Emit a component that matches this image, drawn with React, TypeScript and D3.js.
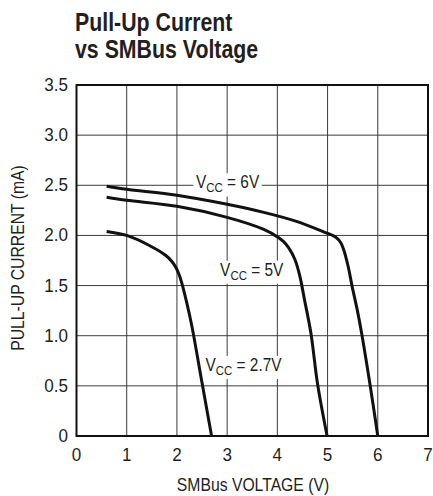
import React, { useEffect, useRef } from "react";
import * as d3 from "d3";

// Pull-up current (mA) vs SMBus voltage (V)
const vcc6V = [
  [0.6, 2.49], [1.0, 2.46], [2.0, 2.4], [3.0, 2.31], [3.73, 2.23], [4.38, 2.14],
  [5.0, 2.02], [5.1, 2.0], [5.19, 1.97], [5.26, 1.93], [5.32, 1.86], [5.41, 1.69],
  [5.49, 1.49], [5.59, 1.26], [5.68, 1.02], [5.84, 0.53], [6.0, 0],
];
const vcc5V = [
  [0.6, 2.38], [1.0, 2.35], [2.0, 2.29], [3.0, 2.18], [3.73, 2.06], [4.02, 1.98],
  [4.12, 1.94], [4.22, 1.88], [4.35, 1.76], [4.45, 1.59], [4.54, 1.36], [4.67, 1.02],
  [4.8, 0.52], [4.99, 0],
];
const vcc27V = [
  [0.6, 2.04], [1.0, 2.0], [1.45, 1.9], [1.78, 1.8], [1.9, 1.74], [1.98, 1.68],
  [2.05, 1.6], [2.1, 1.52], [2.2, 1.32], [2.3, 1.09], [2.5, 0.53], [2.69, 0],
];

const curves = [vcc6V, vcc5V, vcc27V];
const curveLabels = [
  { sub: "CC", rest: " = 6V", x: 2.38, y: 2.47 },
  { sub: "CC", rest: " = 5V", x: 2.86, y: 1.6 },
  { sub: "CC", rest: " = 2.7V", x: 2.57, y: 0.65 },
];

const xTicks = [0, 1, 2, 3, 4, 5, 6, 7];
const yTicks = [0, 0.5, 1.0, 1.5, 2.0, 2.5, 3.0, 3.5];

const FONT = "'Liberation Sans', Arial, sans-serif";
const INK = "#231f20";

// narrow text: the original uses a condensed face, squeeze it horizontally
const narrowText = (parent, x, y, size, squeeze, anchor = "start") =>
  parent
    .append("g")
    .attr("transform", `translate(${x},${y}) scale(${squeeze},1)`)
    .append("text")
    .attr("text-anchor", anchor)
    .attr("font-family", FONT)
    .attr("font-size", size)
    .attr("fill", INK);

const App = () => {
  const svgRef = useRef(null);

  useEffect(() => {
    const svg = d3.select(svgRef.current);
    svg.selectAll("*").remove();

    const left = 76.5;
    const right = 428;
    const top = 85;
    const bottom = 436;

    const x = d3.scaleLinear().domain([0, 7]).range([left, right]);
    const y = d3.scaleLinear().domain([0, 3.5]).range([bottom, top]);

    // Title
    narrowText(svg, 75, 31, 26, 0.82).attr("font-weight", "bold").text("Pull-Up Current");
    narrowText(svg, 75, 58, 26, 0.82).attr("font-weight", "bold").text("vs SMBus Voltage");

    // Grid
    svg
      .append("g")
      .selectAll("line")
      .data(xTicks.slice(1, -1))
      .join("line")
      .attr("x1", (d) => x(d))
      .attr("x2", (d) => x(d))
      .attr("y1", top)
      .attr("y2", bottom)
      .attr("stroke", "#3a3a3a")
      .attr("stroke-width", 1);

    svg
      .append("g")
      .selectAll("line")
      .data(yTicks.slice(1, -1))
      .join("line")
      .attr("x1", left)
      .attr("x2", right)
      .attr("y1", (d) => y(d))
      .attr("y2", (d) => y(d))
      .attr("stroke", "#3a3a3a")
      .attr("stroke-width", 1);

    // Frame
    svg
      .append("rect")
      .attr("x", left)
      .attr("y", top)
      .attr("width", right - left)
      .attr("height", bottom - top)
      .attr("fill", "none")
      .attr("stroke", "#111")
      .attr("stroke-width", 2);

    // Curve labels with white backing
    curveLabels.forEach((l) => {
      const t = narrowText(svg, x(l.x), y(l.y), 17.5, 0.88);
      t.append("tspan").text("V");
      t.append("tspan").attr("font-size", 13).attr("dy", 4).text(l.sub);
      t.append("tspan").attr("dy", -4).text(l.rest);
      const bb = t.node().getBBox();
      d3.select(t.node().parentNode)
        .insert("rect", "text")
        .attr("x", bb.x - 3)
        .attr("y", bb.y + 1)
        .attr("width", bb.width + 6)
        .attr("height", bb.height)
        .attr("fill", "#fff");
    });

    // Curves
    const line = d3
      .line()
      .x((d) => x(d[0]))
      .y((d) => y(d[1]))
      .curve(d3.curveCatmullRom.alpha(0.5));

    svg
      .append("g")
      .selectAll("path")
      .data(curves)
      .join("path")
      .attr("d", line)
      .attr("fill", "none")
      .attr("stroke", "#111")
      .attr("stroke-width", 3)
      .attr("stroke-linejoin", "round");

    // Tick labels
    yTicks.forEach((d) => {
      narrowText(svg, 68, y(d) + 6, 18, 0.95, "end").text(d === 0 ? "0" : d3.format(".1f")(d));
    });
    xTicks.forEach((d) => {
      narrowText(svg, x(d), 461, 18, 0.95, "middle").text(d);
    });

    // Axis titles
    narrowText(svg, 253, 491, 17.5, 0.9, "middle").text("SMBus VOLTAGE (V)");

    svg
      .append("g")
      .attr("transform", "translate(24,258) rotate(-90) scale(0.9,1)")
      .append("text")
      .attr("text-anchor", "middle")
      .attr("font-family", FONT)
      .attr("font-size", 17.5)
      .attr("fill", INK)
      .text("PULL-UP CURRENT (mA)");
  }, []);

  return (
    <svg
      ref={svgRef}
      width={433}
      height={496}
      style={{ position: "absolute", left: 0, top: 0, background: "#fff" }}
    />
  );
};

export default App;
